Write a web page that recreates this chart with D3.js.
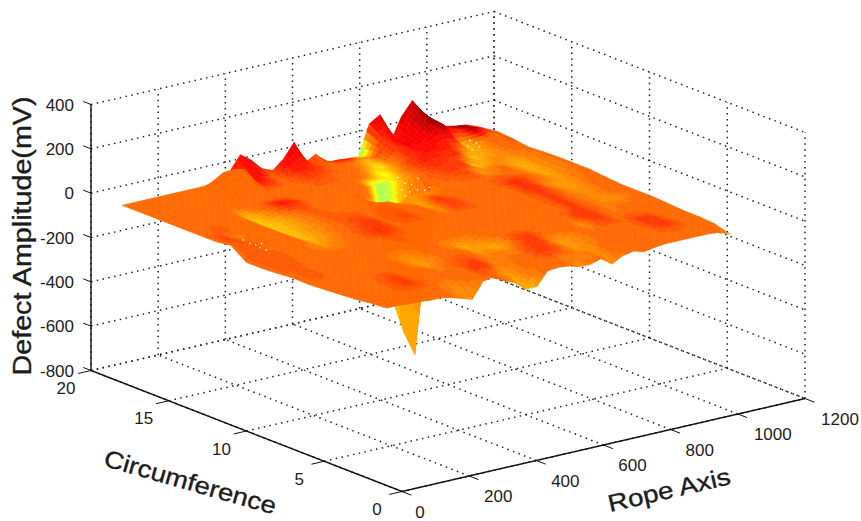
<!DOCTYPE html>
<html><head><meta charset="utf-8">
<script src="https://cdnjs.cloudflare.com/ajax/libs/d3/7.8.5/d3.min.js"></script>
<style>html,body{margin:0;background:#fff}svg{display:block}text{font-family:"Liberation Sans",Arial,sans-serif;fill:#1c1c1c}</style>
</head><body><svg id="c" width="861" height="521"></svg>
<script>
const ropeTicks=[0,200,400,600,800,1000,1200];
const circTicks=[0,5,10,15,20];
const ampTicks=[-800,-600,-400,-200,0,200,400];
const axisTitles=["Rope Axis","Circumference","Defect Amplitude(mV)"];
const ropeSamples=d3.range(0,1025,32);
const circSamples=[18,17,16,15,14,13,12,11,10,9,8,7,6,5,4,3,2,1];
// surface height in mV: one row per circumference channel, one column per rope sample
const heights=[
[0,0,0,0,0,0,0,0,0,0,40,105,70,20,0,40,105,0,30,-20,-20,-25,-25,110,140,10,110,170,85,35,20,10,5],
[0,0,0,0,0,0,0,0,85,88,77,10,0,0,0,10,10,0,0,0,0,0,0,60,50,20,70,120,90,50,30,30,20],
[0,0,0,0,0,0,0,0,0,0,0,0,0,0,0,0,0,0,0,0,0,-10,0,30,30,20,30,50,40,-10,0,10,30],
[0,0,0,0,0,0,0,0,0,0,0,0,0,0,0,0,0,0,0,-5,-5,0,0,10,10,5,5,5,-15,-10,0,5,25],
[0,0,0,0,0,0,-20,-5,15,20,15,5,0,0,0,0,0,0,-5,-5,-5,-5,0,5,5,5,5,-20,-15,-5,-10,0,15],
[0,0,0,0,0,0,-25,-15,-5,0,5,0,0,0,0,0,-50,-200,-500,-650,-760,-300,-30,0,0,5,-10,-5,0,-10,-20,-5,20],
[0,5,-5,0,0,0,-25,-15,-5,0,0,0,0,0,0,0,0,-20,0,0,0,0,0,0,0,0,0,0,0,-10,-20,-5,22],
[10,5,0,0,0,0,-20,-15,-5,0,0,5,5,0,0,0,0,0,-15,10,5,0,0,0,0,0,10,10,0,-5,-15,-5,22],
[-40,-10,0,0,0,0,-15,-10,0,0,0,10,10,0,0,5,0,0,-5,10,5,0,0,0,0,0,15,5,-5,-15,-15,0,22],
[-40,-10,0,0,0,0,-10,0,0,0,10,10,5,0,0,0,0,0,0,0,0,0,0,0,0,0,10,5,0,-10,-10,0,15],
[-35,-10,0,0,0,0,0,0,0,0,0,0,0,0,0,0,0,0,0,0,0,0,0,0,0,0,5,0,0,-5,-5,0,9],
[-28,-10,0,0,0,0,0,0,0,0,0,0,0,0,0,0,0,0,0,0,0,0,0,0,0,0,5,0,0,-5,-5,0,9],
[-30,-5,0,0,0,0,0,0,-5,-10,-5,0,0,-5,-15,-10,-5,0,0,0,0,0,0,0,0,5,5,0,0,0,0,0,9],
[-25,-5,0,0,0,0,0,0,-5,-15,-5,0,0,0,-10,-10,-15,-10,5,5,0,0,0,0,-5,0,5,0,0,0,0,0,5],
[-20,0,0,0,0,0,0,0,0,-5,0,0,5,0,-5,0,-5,0,5,5,-5,-10,0,0,0,0,0,0,5,5,0,0,0],
[-15,0,0,0,0,5,0,0,0,0,0,5,5,-5,-10,0,0,0,5,0,-5,-5,0,0,0,0,0,0,5,5,0,0,0],
[-5,0,0,0,0,0,0,-20,-30,0,5,0,0,-35,-35,0,0,0,-5,-5,0,-15,0,0,0,0,0,0,0,0,0,0,-5],
[0,0,-5,-5,-10,-10,-20,-35,-50,20,30,0,-20,-60,-60,0,5,0,-15,-15,0,-36,-10,0,-14,-5,0,0,0,0,0,-5,-25]
];
// value that picks each vertex colour on the jet map, same shape as heights
const tones=[
[0,0,0,0,0,0,0,0,0,0,60,100,110,50,40,100,110,50,10,50,100,100,-290,100,110,70,120,130,200,210,130,210,60],
[0,0,0,0,0,0,0,0,0,0,10,90,70,0,30,70,60,40,0,0,0,-60,10,50,90,100,110,190,215,100,70,215,50],
[0,0,0,0,0,0,0,0,0,0,0,0,0,0,10,30,20,0,0,0,-60,-140,-30,40,70,90,90,80,70,-90,-40,-5,10],
[0,0,0,0,0,0,0,0,0,0,10,0,0,0,0,0,0,0,0,-60,-170,-60,0,50,70,60,50,50,-90,-65,-30,0,10],
[0,0,0,0,0,0,-90,-30,30,90,60,10,0,0,0,0,0,0,-250,-220,-80,-30,0,30,50,40,50,-90,-60,-30,-40,-15,0],
[0,0,20,0,0,0,-100,-70,-35,-10,20,0,0,0,0,0,0,-150,-80,-70,-60,-30,-10,10,20,30,-50,-25,0,-50,-75,-35,0],
[0,45,-25,0,0,0,-95,-70,-40,-15,5,10,0,0,0,0,0,-60,-45,-45,-35,-10,0,0,0,0,0,0,0,-35,-70,-30,0],
[0,20,10,0,0,0,-90,-65,-35,-15,5,25,25,0,10,20,0,0,-70,45,20,0,0,0,0,10,60,40,10,-20,-55,-30,0],
[0,20,0,0,0,0,-75,-50,-20,0,10,45,45,0,20,30,0,0,-35,45,35,0,0,0,0,0,60,35,-30,-50,-50,-15,0],
[0,20,10,0,0,-20,-40,-20,0,0,40,60,35,0,0,0,0,0,0,0,0,0,0,0,0,0,55,25,-20,-45,-35,0,0],
[0,20,0,0,0,0,0,0,0,0,0,15,0,0,0,0,0,0,0,0,0,0,0,0,0,0,55,15,-15,-30,-20,0,0],
[0,10,0,0,0,0,0,0,0,0,0,0,0,0,0,0,0,0,0,0,0,0,0,0,0,0,50,15,-20,-35,-40,-15,0],
[0,10,0,0,0,0,0,0,-20,-40,-20,0,0,-25,-65,-40,-20,0,0,0,0,0,0,0,0,50,45,10,-20,0,0,0,0],
[0,0,0,0,0,0,0,0,-25,-60,-30,-5,0,0,-55,-45,-70,-40,35,50,10,0,0,0,-40,25,45,0,0,0,0,0,0],
[0,0,0,0,15,45,0,0,0,-25,0,20,35,0,-25,-15,-25,25,50,35,-40,-45,-20,0,0,0,0,0,55,45,0,0,0],
[0,0,0,0,25,45,10,0,0,0,0,45,55,-15,-25,0,0,35,45,10,-45,-40,-15,0,0,0,0,0,45,55,10,0,0],
[0,0,0,0,0,0,0,-20,-35,0,0,20,-40,-60,-25,0,0,0,-20,-15,-20,-35,0,0,0,0,0,0,0,0,0,0,0],
[0,0,0,0,0,0,0,-25,-45,-15,0,0,-30,-65,-60,0,0,0,-35,-20,0,-40,-15,0,0,0,0,0,0,0,0,0,-30]
];
// pin-hole specks left in the mesh, as rope and circumference positions
const speckRope=[650,634,640,682,597,602,625,575,637,661,60,57,60,77,54,54,962,962,932,947,920];
const speckCirc=[14.3,13.5,13.2,13.7,12.9,12.5,12.5,12.2,12.3,12.5,11.5,11,10.7,10.7,9.9,10.3,16.4,16,15.9,15.5,15.35];

const svg=d3.select("#c");
const ru=d3.scaleLinear().domain([0,1200]).range([0,1]);
const cv=d3.scaleLinear().domain([0,20]).range([0,1]);
const zw=d3.scaleLinear().domain([-800,400]).range([0,1]);
const project=(r,c,z)=>[402+403*ru(r)-311*cv(c),491.5-93*ru(r)-121*cv(c)-266*zw(z)];
const pathOf=d3.line();
// MATLAB-style 64-step jet
const jetAt=p=>{const f=(a)=>Math.max(0,Math.min(1,1.5-Math.abs(4*p-a)));
  return d3.rgb(255*f(3),255*f(2),255*f(1)).formatHex();};
const color=d3.scaleQuantize().domain([-760,220]).range(d3.range(64).map(i=>jetAt((i+.5)/64)));

const rMin=ropeTicks[0],rMax=ropeTicks[ropeTicks.length-1];
const cMin=circTicks[0],cMax=circTicks[circTicks.length-1];
const zMin=ampTicks[0],zMax=ampTicks[ampTicks.length-1];

// dotted grid
const grid=svg.append("g").attr("fill","none").attr("stroke","#222").attr("stroke-width",1.5).attr("stroke-dasharray","1.5 4.4");
const seg=(a,b)=>grid.append("path").attr("d",pathOf([a,b]));
ropeTicks.forEach(r=>{seg(project(r,cMin,zMin),project(r,cMax,zMin));seg(project(r,cMax,zMin),project(r,cMax,zMax));});
circTicks.forEach(c=>{seg(project(rMin,c,zMin),project(rMax,c,zMin));seg(project(rMax,c,zMin),project(rMax,c,zMax));});
ampTicks.forEach(z=>{seg(project(rMin,cMax,z),project(rMax,cMax,z));seg(project(rMax,cMax,z),project(rMax,cMin,z));});

// surface: painted back to front, each mesh cell shaded in four by four flat steps
const surf=svg.append("g");
const bil=(m,i,j,s,t)=>{const a=m[j][i],b=m[j][i+1],d=m[j+1][i],e=m[j+1][i+1];return (1-s)*(1-t)*a+s*(1-t)*b+(1-s)*t*d+s*t*e;};
const N=4;
for(let i=ropeSamples.length-2;i>=0;i--){
 for(let j=0;j<circSamples.length-1;j++){
  const r0=ropeSamples[i],r1=ropeSamples[i+1],c0=circSamples[j],c1=circSamples[j+1];
  for(let a=N-1;a>=0;a--)for(let b=0;b<N;b++){
    const s0=a/N,s1=(a+1)/N,t0=b/N,t1=(b+1)/N;
    const P=(s,t)=>project(r0+(r1-r0)*s,c0+(c1-c0)*t,bil(heights,i,j,s,t));
    const col=color(bil(tones,i,j,(s0+s1)/2,(t0+t1)/2));
    surf.append("path").attr("d",pathOf([P(s0,t0),P(s1,t0),P(s1,t1),P(s0,t1)])+"Z")
      .attr("fill",col).attr("stroke",col).attr("stroke-width",.5);
  }
 }
}
surf.append("g").attr("fill","#fff").selectAll("circle").data(speckRope).join("circle")
  .attr("cx",(d,i)=>project(d,speckCirc[i],0)[0]).attr("cy",(d,i)=>project(d,speckCirc[i],0)[1]).attr("r",.8);

// axes
const ax=svg.append("g").attr("stroke","#111").attr("fill","none").attr("stroke-width",1.4);
ax.append("path").attr("d",pathOf([project(rMin,cMax,zMax),project(rMin,cMax,zMin),project(rMin,cMin,zMin),project(rMax,cMin,zMin)]));
const tick=(a,b)=>ax.append("path").attr("stroke-width",1).attr("d",pathOf([a,b]));
ampTicks.forEach(z=>tick(project(rMin,cMax,z),project(rMin,cMax+.5,z)));
ropeTicks.forEach(r=>tick(project(r,cMin,zMin),project(r,cMin-.6,zMin)));
circTicks.forEach(c=>tick(project(rMin,c,zMin),project(rMin-38,c,zMin)));

const lab=svg.append("g").attr("font-size",17);
ampTicks.forEach(z=>{const p=project(rMin,cMax,z);lab.append("text").attr("x",p[0]-17).attr("y",p[1]+6).attr("text-anchor","end").text(z);});
circTicks.forEach(c=>{const p=project(rMin,c,zMin);lab.append("text").attr("x",p[0]-25).attr("y",p[1]+23.5).attr("text-anchor","middle").text(c);});
ropeTicks.forEach(r=>{const p=project(r,cMin,zMin);const w=String(r).length;lab.append("text").attr("x",p[0]+(w==1?18:w==3?29:35)).attr("y",p[1]+26).attr("text-anchor","middle").text(r);});

const title=(t,x,y,a,fs,len)=>svg.append("text").attr("transform",`translate(${x},${y}) rotate(${a})`).attr("text-anchor","middle").attr("font-size",fs).attr("textLength",len).attr("lengthAdjust","spacingAndGlyphs").attr("stroke","#1c1c1c").attr("stroke-width",.35).text(t);
title(axisTitles[0],671,498,-13,24,125);
title(axisTitles[1],188,490,16,24,178);
title(axisTitles[2],31,236,-90,25,279);
</script></body></html>
